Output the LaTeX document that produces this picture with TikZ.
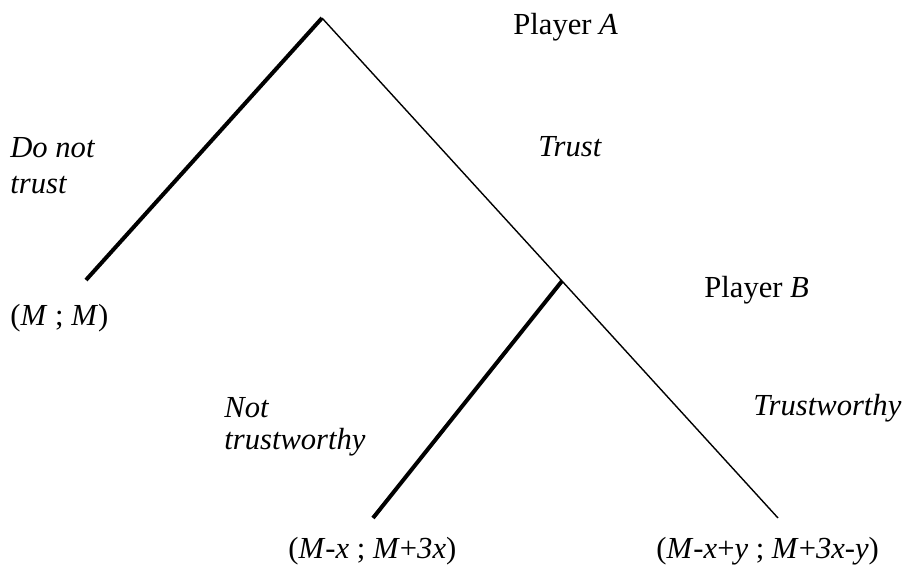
\documentclass[tikz,border=0pt]{standalone}
\usepackage{fontspec}
\setmainfont{Liberation Serif}
\begin{document}
\begin{tikzpicture}[x=0.5pt,y=-0.5pt,
  thickedge/.style={line width=2pt,line cap=butt},
  thinedge/.style={line width=0.7pt},
  lbl/.style={inner sep=0pt,anchor=base west,font=\fontsize{15.3}{18}\selectfont}]
\useasboundingbox (0,0) rectangle (909,567);
\coordinate (A) at (322,18);
\coordinate (B) at (562,281);
\coordinate (L1) at (86,280);
\coordinate (L2) at (373,518);
\coordinate (L3) at (778,518);
\draw[thickedge] (A) -- (L1);
\draw[thinedge] (A) -- (B) -- (L3);
\draw[thickedge] (B) -- (L2);
\node[lbl] (pa) at (513,35) {Player \textit{A}};
\node[lbl] (dn1) at (10,157) {\textit{Do not}};
\node[lbl] (dn2) at (10,193) {\textit{trust}};
\node[lbl] (tr) at (538,156) {\textit{Trust}};
\node[lbl] (mm) at (10,325) {(\textit{M} ; \textit{M})};
\node[lbl] (pb) at (704,297) {Player \textit{B}};
\node[lbl] (nt1) at (224,417) {\textit{Not}};
\node[lbl] (nt2) at (224,449) {\textit{trustworthy}};
\node[lbl] (tw) at (753,415) {\textit{Trustworthy}};
\node[lbl] (o1) at (288,558) {(\textit{M}-\textit{x} ; \textit{M}+\textit{3x})};
\node[lbl] (o2) at (656,558) {(\textit{M}-\textit{x}+\textit{y} ; \textit{M}+\textit{3x}-\textit{y})};
\end{tikzpicture}
\end{document}
